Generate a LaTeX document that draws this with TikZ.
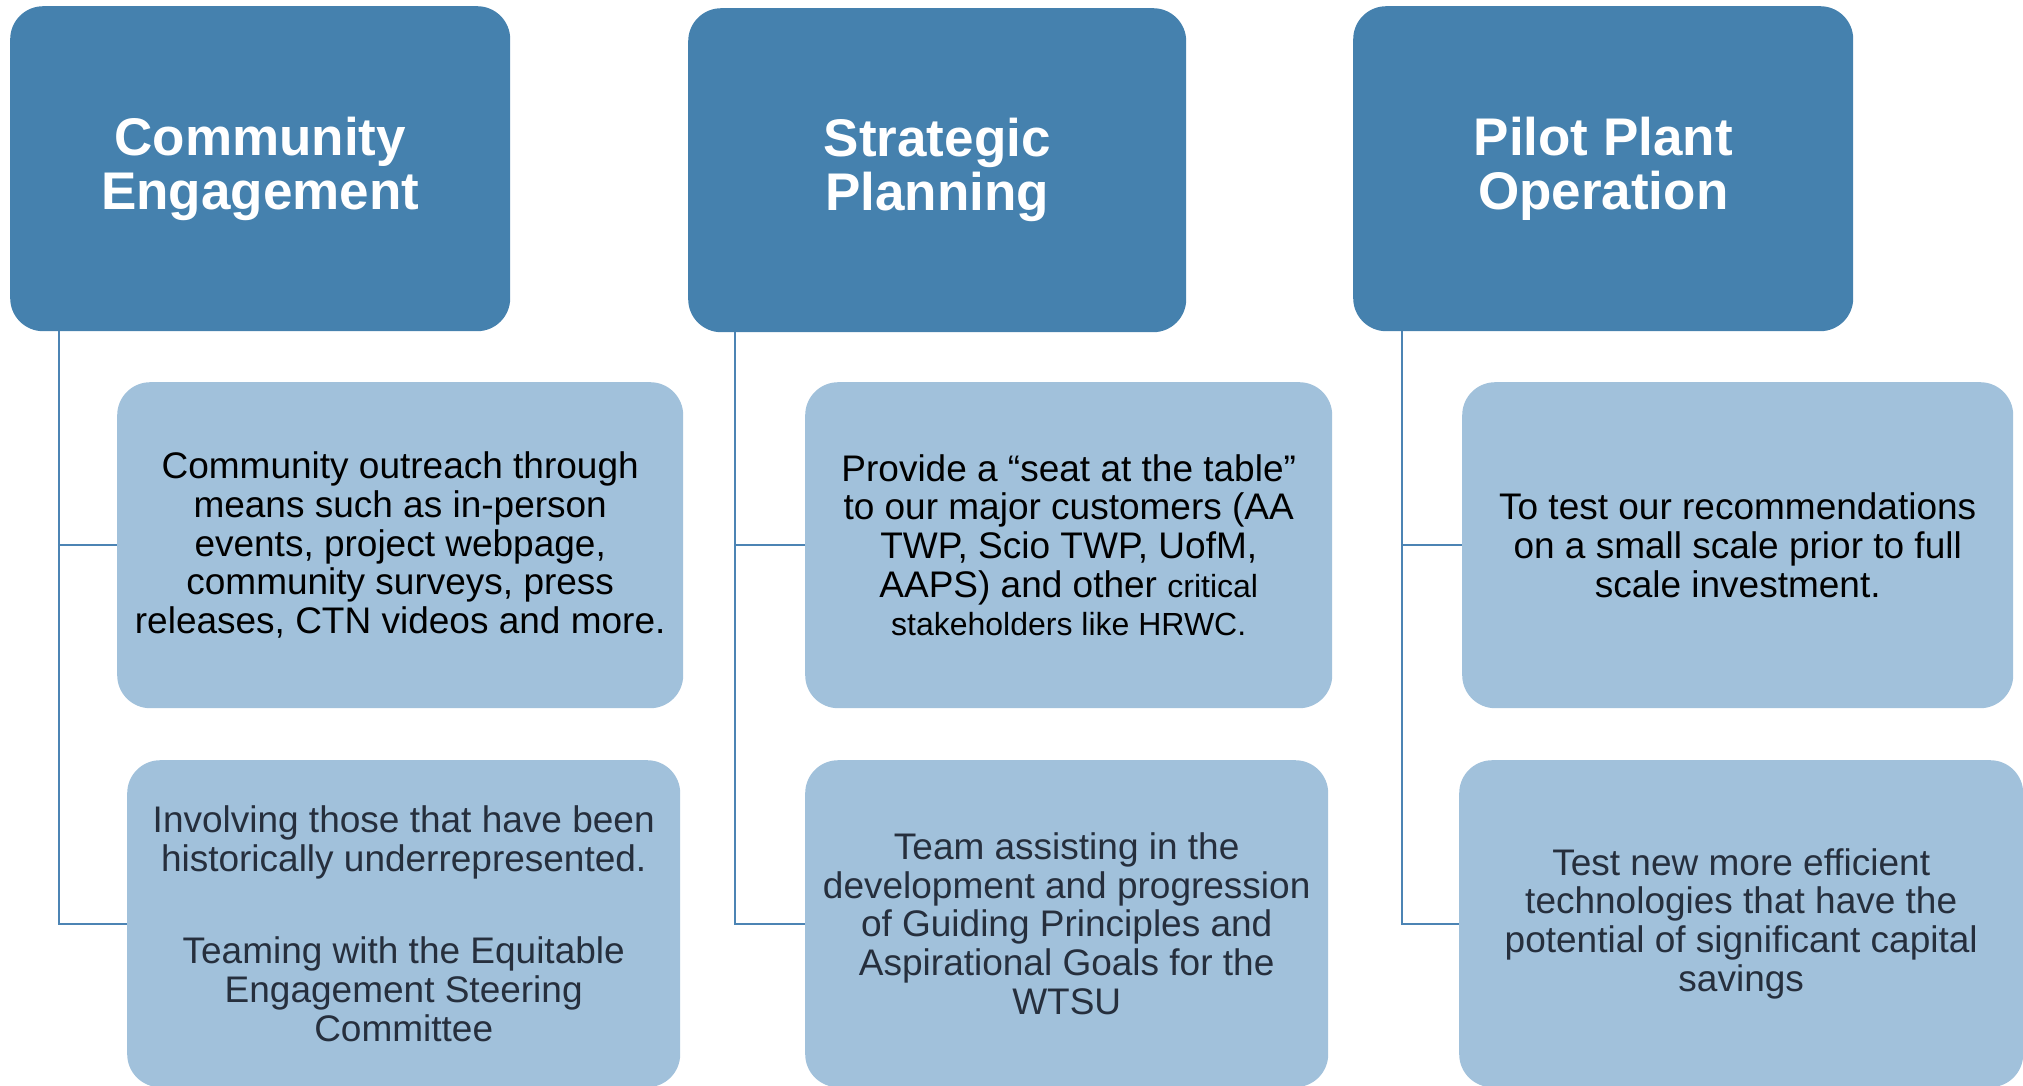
\documentclass[tikz,border=0pt]{standalone}
\usepackage{fontspec}
\setmainfont{Liberation Sans}
\definecolor{hdrblue}{HTML}{4581AE}
\definecolor{childblue}{HTML}{A1C1DB}
\definecolor{lineblue}{HTML}{4C84B4}
\definecolor{darktext}{HTML}{262F3D}
\tikzset{
  hdr/.style={rectangle, rounded corners=33pt, fill=hdrblue, draw=none, inner sep=0pt,
    anchor=north west, align=center, text=white,
    font=\fontsize{53}{54}\selectfont\bfseries},
  child/.style={rectangle, rounded corners=33pt, fill=childblue, draw=none, inner sep=0pt,
    anchor=north west, align=center, text=black,
    font=\fontsize{37}{38.7}\selectfont},
  childb/.style={child, text=darktext},
  conn/.style={draw=lineblue, line width=2.4pt}
}
\begin{document}
\begin{tikzpicture}[x=1pt,y=-1pt]
\useasboundingbox (0,0) rectangle (2023,1085);
\begin{scope}
\clip (0,0) rectangle (2023,1085);
% headers
\node[hdr, minimum width=500pt, minimum height=325pt] (ce) at (10,6) {Community\\Engagement};
\node[hdr, minimum width=498pt, minimum height=324pt] (sp) at (688,8) {Strategic\\Planning};
\node[hdr, minimum width=500pt, minimum height=325pt] (pp) at (1353,6) {Pilot Plant\\Operation};
% children column 1
\node[child, minimum width=566pt, minimum height=326pt] (ce1) at (117,382)
  {Community outreach through\\means such as in-person\\events, project webpage,\\community surveys, press\\releases, CTN videos and more.};
\node[childb, minimum width=553pt, minimum height=327pt] (ce2) at (127,760)
  {Involving those that have been\\historically underrepresented.\\[54pt]Teaming with the Equitable\\Engagement Steering\\Committee};
% children column 2
\node[child, minimum width=527pt, minimum height=326pt] (sp1) at (805,382)
  {Provide a “seat at the table”\\to our major customers (AA\\TWP, Scio TWP, UofM,\\AAPS) and other {\fontsize{32}{38.7}\selectfont critical}\\{\fontsize{32}{38.7}\selectfont stakeholders like HRWC.}};
\node[childb, minimum width=523pt, minimum height=327pt] (sp2) at (805,760)
  {Team assisting in the\\development and progression\\of Guiding Principles and\\Aspirational Goals for the\\WTSU};
% children column 3
\node[child, minimum width=551pt, minimum height=326pt] (pp1) at (1462,382)
  {To test our recommendations\\on a small scale prior to full\\scale investment.};
\node[childb, minimum width=564pt, minimum height=327pt] (pp2) at (1459,760)
  {Test new more efficient\\technologies that have the\\potential of significant capital\\savings};
% connector origins
\coordinate (cel) at (59,331);
\coordinate (spl) at (735,332);
\coordinate (ppl) at (1402,331);
\draw[conn] (cel) |- (ce1.west);
\draw[conn] (cel) |- (ce2.west);
\draw[conn] (spl) |- (sp1.west);
\draw[conn] (spl) |- (sp2.west);
\draw[conn] (ppl) |- (pp1.west);
\draw[conn] (ppl) |- (pp2.west);
\end{scope}
\end{tikzpicture}
\end{document}
